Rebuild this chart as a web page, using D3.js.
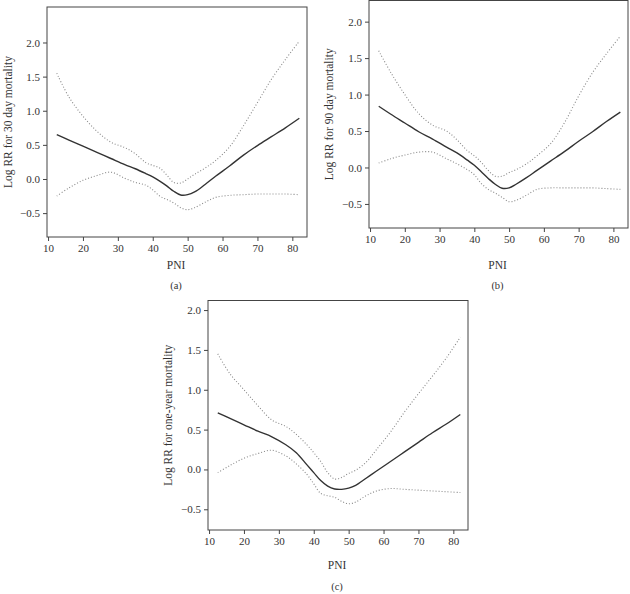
<!DOCTYPE html>
<html><head><meta charset="utf-8">
<script src="https://cdn.jsdelivr.net/npm/d3@7"></script>
<style>body{margin:0;background:#fff}svg{display:block}text{font-family:"Liberation Serif","DejaVu Serif",serif;fill:#333}</style>
</head><body><svg id="c" width="630" height="594"></svg>
<script>
const pni = [12.5,16,20,24,28,32,35,38,40,42,44,46,48,50,52,55,58,62,66,70,74,78,82];
const xTicks = [10,20,30,40,50,60,70,80];
const yTicks = [-0.5,0,0.5,1.0,1.5,2.0];

const fitA   = [0.65,0.57,0.48,0.39,0.30,0.21,0.15,0.08,0.03,-0.03,-0.10,-0.18,-0.235,-0.23,-0.19,-0.08,0.04,0.19,0.35,0.49,0.62,0.75,0.89];
const upperA = [1.55,1.20,0.92,0.70,0.54,0.46,0.37,0.24,0.20,0.16,0.06,-0.05,-0.06,0.00,0.07,0.16,0.27,0.47,0.78,1.12,1.46,1.75,2.02];
const lowerA = [-0.25,-0.13,-0.02,0.05,0.10,0.01,-0.05,-0.09,-0.16,-0.25,-0.30,-0.35,-0.42,-0.45,-0.42,-0.34,-0.27,-0.24,-0.23,-0.22,-0.22,-0.22,-0.23];

const fitB   = [0.84,0.73,0.61,0.49,0.39,0.28,0.20,0.10,0.03,-0.06,-0.15,-0.23,-0.285,-0.28,-0.23,-0.14,-0.04,0.09,0.22,0.36,0.49,0.63,0.76];
const upperB = [1.60,1.30,1.00,0.74,0.58,0.50,0.38,0.23,0.16,0.07,-0.04,-0.12,-0.12,-0.07,-0.03,0.05,0.16,0.33,0.62,0.98,1.30,1.56,1.80];
const lowerB = [0.06,0.12,0.17,0.21,0.21,0.12,0.05,-0.03,-0.10,-0.22,-0.30,-0.35,-0.41,-0.47,-0.45,-0.38,-0.30,-0.28,-0.28,-0.28,-0.28,-0.29,-0.30];

const fitC   = [0.71,0.64,0.56,0.48,0.41,0.31,0.21,0.06,-0.04,-0.14,-0.21,-0.245,-0.25,-0.235,-0.20,-0.11,-0.02,0.10,0.22,0.34,0.46,0.57,0.69];
const upperC = [1.45,1.20,1.00,0.80,0.62,0.54,0.44,0.31,0.21,0.10,-0.04,-0.12,-0.10,-0.05,-0.01,0.09,0.25,0.47,0.72,0.95,1.17,1.40,1.66];
const lowerC = [-0.04,0.05,0.14,0.20,0.24,0.17,0.07,-0.06,-0.18,-0.30,-0.33,-0.35,-0.40,-0.43,-0.41,-0.33,-0.27,-0.24,-0.25,-0.26,-0.27,-0.28,-0.29];

const panels = [
  {fit:fitA, up:upperA, lo:lowerA, title:"Log RR for 30 day mortality", cap:"(a)",
   L:47, T:7, R:307, B:237, yd:[-0.85,2.52], titleX:8, capY:289, pniY:269},
  {fit:fitB, up:upperB, lo:lowerB, title:"Log RR for 90 day mortality", cap:"(b)",
   L:369, T:0.5, R:628, B:228, yd:[-0.83,2.29], titleX:329, capY:289, pniY:269},
  {fit:fitC, up:upperC, lo:lowerC, title:"Log RR for one-year mortality", cap:"(c)",
   L:208, T:300.5, R:468, B:530, yd:[-0.76,2.12], titleX:168, capY:590, pniY:569}
];

const svg = d3.select("#c");
panels.forEach(p => {
  const x = d3.scaleLinear().domain([9.7,84.2]).range([p.L,p.R]);
  const y = d3.scaleLinear().domain(p.yd).range([p.B,p.T]);
  const g = svg.append("g");
  g.append("rect").attr("x",p.L).attr("y",p.T).attr("width",p.R-p.L).attr("height",p.B-p.T)
    .attr("fill","none").attr("stroke","#444").attr("stroke-width",1);
  const xa = g.append("g").attr("transform",`translate(0,${p.B})`)
    .call(d3.axisBottom(x).tickValues(xTicks).tickSize(4).tickPadding(3).tickFormat(d3.format("d")));
  const ya = g.append("g").attr("transform",`translate(${p.L},0)`)
    .call(d3.axisLeft(y).tickValues(yTicks).tickSize(4).tickPadding(3).tickFormat(d3.format(".1f")));
  [xa,ya].forEach(a=>{a.select(".domain").remove();a.selectAll("line").attr("stroke","#444");
    a.selectAll("text").attr("font-size",11).attr("font-family",'"Liberation Serif",serif').attr("fill","#333");});
  const line = d3.line().x((d,i)=>x(pni[i])).y(d=>y(d)).curve(d3.curveCatmullRom.alpha(0.5));
  [p.up,p.lo].forEach(arr=>g.append("path").attr("d",line(arr)).attr("fill","none")
    .attr("stroke","#888").attr("stroke-width",1.1).attr("stroke-dasharray","1,2"));
  g.append("path").attr("d",line(p.fit)).attr("fill","none").attr("stroke","#333").attr("stroke-width",1.4);
  const cx=(p.L+p.R)/2, cy=(p.T+p.B)/2;
  g.append("text").attr("transform",`translate(${p.titleX},${cy}) rotate(-90)`).attr("text-anchor","middle")
    .attr("dominant-baseline","central").attr("font-size",11.5).text(p.title);
  g.append("text").attr("x",cx-1).attr("y",p.pniY).attr("text-anchor","middle").attr("font-size",11.5).text("PNI");
  g.append("text").attr("x",cx-1).attr("y",p.capY).attr("text-anchor","middle").attr("font-size",10.5).text(p.cap);
});
</script></body></html>
